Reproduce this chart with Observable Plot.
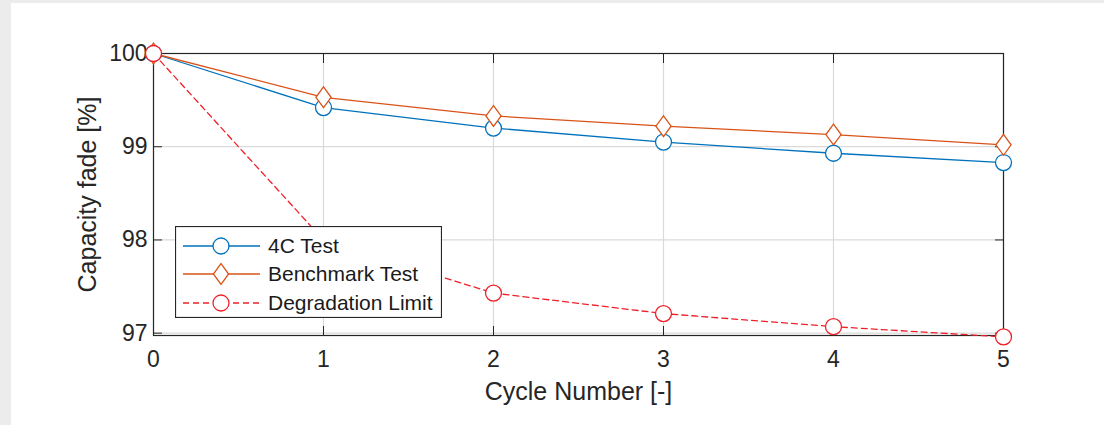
<!DOCTYPE html>
<html>
<head>
<meta charset="utf-8">
<script src="https://cdn.jsdelivr.net/npm/d3@7"></script>
<script src="https://cdn.jsdelivr.net/npm/@observablehq/plot@0.6"></script>
<style>
  html, body { margin: 0; padding: 0; background: #ececec; width: 1104px; height: 425px; overflow: hidden; }
  #wrap { position: absolute; left: 11px; top: 3px; width: 1093px; height: 422px; background: #fff; }
  #legend { position: absolute; left: 164px; top: 223px; }
</style>
</head>
<body>
<div id="wrap"><div id="chart"></div><div id="legend"></div></div>
<script>
// ---- data ----
const cycles = [0, 1, 2, 3, 4, 5];
const test4C = [100, 99.42, 99.20, 99.05, 98.93, 98.83];
const benchmark = [100, 99.53, 99.33, 99.22, 99.13, 99.02];
const degradationLimit = [100, 98.0, 97.43, 97.21, 97.07, 96.96];
const seriesNames = ["4C Test", "Benchmark Test", "Degradation Limit"];
const xTicks = [0, 1, 2, 3, 4, 5];
const yTicks = [97, 98, 99, 100];
const xLabel = "Cycle Number [-]";
const yLabel = "Capacity fade [%]";

const colors = {"4C Test": "#0072BD", "Benchmark Test": "#D95319", "Degradation Limit": "#F0202A"};
const font = "'Liberation Sans', Arial, Helvetica, sans-serif";
const ink = "#262626";

const tallDiamond = {
  draw(ctx, size) {
    const r = Math.sqrt(size / Math.PI);
    const w = r * 0.95, h = r * 1.3;
    ctx.moveTo(0, -h); ctx.lineTo(w, 0); ctx.lineTo(0, h); ctx.lineTo(-w, 0); ctx.closePath();
  }
};

const rows = (vals, name) => cycles.map((c, i) => ({cycle: c, value: vals[i], series: name}));
const d4C = rows(test4C, seriesNames[0]);
const dBench = rows(benchmark, seriesNames[1]);
const dDeg = rows(degradationLimit, seriesNames[2]);

const chart = Plot.plot({
  width: 1093,
  height: 422,
  marginLeft: 142,
  marginRight: 101,
  marginTop: 50,
  marginBottom: 90,
  style: {fontFamily: font, fontSize: "23px", color: ink, background: "white", overflow: "visible"},
  x: {domain: [0, 5]},
  y: {domain: [96.975, 100]},
  marks: [
    Plot.gridX(xTicks, {stroke: "#dadada", strokeOpacity: 1, strokeWidth: 1.2}),
    Plot.gridY(yTicks, {stroke: "#dadada", strokeOpacity: 1, strokeWidth: 1.2}),
    Plot.axisX({ticks: xTicks, tickSize: -9, tickPadding: 24, tickFormat: d => String(d), stroke: ink, fill: ink, label: null}),
    Plot.axisX({ticks: xTicks, anchor: "top", tickSize: -9, tickFormat: () => "", stroke: ink, label: null}),
    Plot.axisY({ticks: yTicks, tickSize: -9, tickPadding: 15, tickFormat: d => String(d), stroke: ink, fill: ink, label: null}),
    Plot.axisY({ticks: yTicks, anchor: "right", tickSize: -9, tickFormat: () => "", stroke: ink, label: null}),
    Plot.frame({stroke: ink, strokeWidth: 1.2}),
    Plot.text([xLabel], {frameAnchor: "bottom", textAnchor: "middle", lineAnchor: "top", dy: 47, fontSize: 25, fill: ink}),
    Plot.text([yLabel], {frameAnchor: "left", rotate: -90, textAnchor: "middle", lineAnchor: "middle", dx: -66, fontSize: 25, fill: ink}),
    Plot.line(d4C, {x: "cycle", y: "value", stroke: colors["4C Test"], strokeWidth: 1.3}),
    Plot.dot(d4C, {x: "cycle", y: "value", r: 8, symbol: "circle", stroke: colors["4C Test"], fill: "white", strokeWidth: 1.3}),
    Plot.line(dBench, {x: "cycle", y: "value", stroke: colors["Benchmark Test"], strokeWidth: 1.3}),
    Plot.dot(dBench, {x: "cycle", y: "value", r: 8, symbol: tallDiamond, stroke: colors["Benchmark Test"], fill: "white", strokeWidth: 1.3}),
    Plot.line(dDeg, {x: "cycle", y: "value", stroke: colors["Degradation Limit"], strokeWidth: 1.3, strokeDasharray: "6,4"}),
    Plot.dot(dDeg, {x: "cycle", y: "value", r: 8, symbol: "circle", stroke: colors["Degradation Limit"], fill: "white", strokeWidth: 1.3})
  ]
});
document.getElementById("chart").appendChild(chart);

// ---- legend ----
const lw = 267, lh = 92;
const svg = d3.select("#legend").append("svg").attr("width", lw).attr("height", lh)
  .style("font-family", font).style("display", "block");
svg.append("rect").attr("x", 0.5).attr("y", 0.5).attr("width", lw - 1).attr("height", lh - 1)
  .attr("fill", "white").attr("stroke", ink).attr("stroke-width", 1.2);
const rowY = [20, 48, 77];
seriesNames.forEach((name, i) => {
  const y = rowY[i];
  const g = svg.append("g");
  g.append("line").attr("x1", 8).attr("x2", 85).attr("y1", y).attr("y2", y)
    .attr("stroke", colors[name]).attr("stroke-width", 1.3)
    .attr("stroke-dasharray", name === "Degradation Limit" ? "6,4" : null);
  if (name === "Benchmark Test") {
    g.append("path").attr("d", `M46,${y - 10.4}L53.6,${y}L46,${y + 10.4}L38.4,${y}Z`)
      .attr("fill", "white").attr("stroke", colors[name]).attr("stroke-width", 1.3);
  } else {
    g.append("circle").attr("cx", 46).attr("cy", y).attr("r", 8)
      .attr("fill", "white").attr("stroke", colors[name]).attr("stroke-width", 1.3);
  }
  g.append("text").attr("x", 93).attr("y", y).attr("dy", "0.35em")
    .attr("font-size", 21).attr("fill", "#1a1a1a").text(name);
});
</script>
</body>
</html>
